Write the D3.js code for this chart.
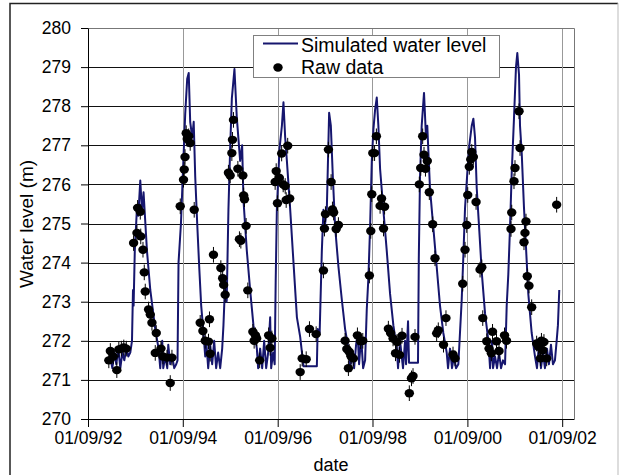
<!DOCTYPE html>
<html>
<head>
<meta charset="utf-8">
<script src="https://cdn.jsdelivr.net/npm/d3@7"></script>
<style>
  body { margin: 0; background: #fff; }
  svg { display: block; font-family: "Liberation Sans", Arial, sans-serif; }
</style>
</head>
<body>
<svg id="chart" width="621" height="475"></svg>
<script>
// dates are decimal years, levels in metres
var simulated = [
  [1993.137, 271.6], [1993.179, 271.3], [1993.221, 271.7], [1993.263, 271.4], [1993.305, 271.8],
  [1993.348, 271.3], [1993.390, 271.7], [1993.432, 271.5], [1993.474, 271.8], [1993.516, 271.6],
  [1993.558, 271.7], [1993.594, 272.0], [1993.615, 273.3], [1993.628, 272.9], [1993.653, 274.3],
  [1993.699, 275.4], [1993.727, 275.2], [1993.769, 276.1], [1993.805, 275.3], [1993.838, 275.8],
  [1993.910, 274.3], [1993.980, 273.3], [1994.085, 272.3], [1994.155, 271.8], [1994.190, 271.3],
  [1994.232, 272.0], [1994.254, 271.3], [1994.296, 271.6], [1994.338, 271.3], [1994.359, 271.9],
  [1994.401, 271.4], [1994.443, 271.6], [1994.485, 271.3], [1994.527, 271.4], [1994.555, 271.5],
  [1994.576, 274.0], [1994.627, 275.0], [1994.675, 276.5], [1994.717, 277.8], [1994.759, 278.7],
  [1994.791, 278.85], [1994.822, 277.6], [1994.865, 277.2], [1994.896, 277.6], [1994.928, 276.2],
  [1994.970, 275.0], [1995.012, 273.9], [1995.054, 272.9], [1995.096, 272.3], [1995.139, 271.6],
  [1995.160, 272.0], [1995.202, 271.3], [1995.244, 271.9], [1995.286, 271.4], [1995.328, 272.0],
  [1995.370, 271.3], [1995.412, 271.7], [1995.455, 271.3], [1995.497, 271.8], [1995.524, 272.4],
  [1995.560, 273.5], [1995.592, 273.0], [1995.629, 275.35], [1995.665, 276.9], [1995.701, 278.2],
  [1995.756, 278.95], [1995.806, 277.7], [1995.876, 276.6], [1995.918, 277.0], [1995.946, 275.6],
  [1996.017, 274.3], [1996.087, 273.3], [1996.156, 272.4], [1996.228, 271.8], [1996.255, 271.3],
  [1996.297, 271.8], [1996.340, 271.3], [1996.382, 272.0], [1996.424, 271.3], [1996.466, 271.7],
  [1996.508, 272.6], [1996.529, 271.3], [1996.571, 271.7], [1996.603, 271.4], [1996.624, 273.5],
  [1996.649, 275.35], [1996.704, 276.9], [1996.755, 277.5], [1996.788, 278.1], [1996.824, 277.2],
  [1996.860, 276.6], [1996.930, 275.35], [1996.999, 274.0], [1997.071, 272.6], [1997.140, 272.1],
  [1997.210, 271.35], [1997.492, 271.35], [1997.509, 272.3], [1997.551, 272.2], [1997.597, 274.3],
  [1997.631, 275.35], [1997.667, 275.0], [1997.703, 275.4], [1997.751, 277.83], [1997.787, 277.5],
  [1997.829, 276.2], [1997.878, 274.9], [1997.947, 273.9], [1998.019, 273.05], [1998.088, 272.3],
  [1998.158, 271.8], [1998.194, 271.3], [1998.236, 271.7], [1998.278, 271.3], [1998.320, 271.9],
  [1998.352, 272.2], [1998.383, 271.4], [1998.426, 272.1], [1998.468, 271.3], [1998.510, 271.5],
  [1998.545, 272.8], [1998.579, 273.6], [1998.615, 274.9], [1998.651, 276.6], [1998.685, 277.4],
  [1998.720, 277.9], [1998.756, 278.22], [1998.790, 277.5], [1998.826, 276.4], [1998.895, 275.35],
  [1998.967, 274.3], [1999.037, 273.2], [1999.106, 272.4], [1999.178, 271.8], [1999.205, 271.3],
  [1999.247, 272.0], [1999.310, 271.3], [1999.353, 272.0], [1999.374, 271.4], [1999.416, 272.5],
  [1999.437, 271.44], [1999.626, 271.44], [1999.643, 274.1], [1999.669, 276.2], [1999.704, 277.5],
  [1999.753, 278.34], [1999.795, 277.2], [1999.822, 277.5], [1999.879, 275.9], [1999.949, 274.9],
  [2000.020, 273.9], [2000.090, 272.9], [2000.160, 272.2], [2000.231, 271.7], [2000.259, 271.3],
  [2000.301, 271.8], [2000.343, 271.3], [2000.385, 271.6], [2000.427, 271.3], [2000.476, 271.4],
  [2000.547, 273.05], [2000.581, 274.15], [2000.617, 275.4], [2000.665, 276.3], [2000.707, 277.0],
  [2000.758, 277.5], [2000.792, 277.68], [2000.827, 277.2], [2000.863, 275.9], [2000.918, 274.8],
  [2000.969, 273.75], [2001.038, 272.7], [2001.108, 272.0], [2001.144, 271.3], [2001.186, 272.0],
  [2001.207, 271.3], [2001.249, 271.6], [2001.291, 271.3], [2001.333, 271.7], [2001.375, 271.3],
  [2001.417, 271.5], [2001.460, 271.4], [2001.495, 272.9], [2001.529, 273.7], [2001.565, 274.9],
  [2001.601, 276.3], [2001.649, 277.7], [2001.691, 279.0], [2001.719, 279.36], [2001.755, 278.8],
  [2001.776, 277.5], [2001.812, 276.8], [2001.860, 275.4], [2001.902, 274.4], [2001.951, 273.2],
  [2002.022, 272.2], [2002.092, 271.6], [2002.134, 271.3], [2002.176, 271.9], [2002.218, 271.3],
  [2002.260, 271.7], [2002.302, 271.3], [2002.345, 271.8], [2002.387, 271.4], [2002.429, 271.9],
  [2002.471, 271.4], [2002.513, 271.5], [2002.549, 272.0], [2002.576, 272.4], [2002.604, 273.3]
];

var rawData = [
  [1993.105, 271.5], [1993.137, 271.74], [1993.200, 271.6], [1993.274, 271.25], [1993.316, 271.78],
  [1993.369, 271.8], [1993.421, 271.83], [1993.474, 271.8],
  [1993.628, 274.5], [1993.699, 274.76], [1993.712, 275.4], [1993.769, 275.3], [1993.779, 274.67],
  [1993.826, 274.33], [1993.853, 273.75], [1993.874, 273.26], [1993.944, 272.8], [1993.980, 272.67],
  [1994.015, 272.46], [1994.106, 272.2], [1994.085, 271.69], [1994.205, 271.8], [1994.247, 271.6],
  [1994.332, 271.57], [1994.437, 271.57], [1994.401, 270.92],
  [1994.612, 275.44], [1994.681, 276.12], [1994.696, 276.38], [1994.713, 276.7], [1994.738, 277.31],
  [1994.759, 277.16], [1994.791, 277.23], [1994.822, 277.06], [1994.907, 275.35],
  [1995.033, 272.46], [1995.090, 272.25], [1995.139, 272.0], [1995.208, 271.98], [1995.229, 272.55],
  [1995.244, 271.67], [1995.313, 274.2], [1995.469, 273.86], [1995.507, 273.6], [1995.528, 273.43],
  [1995.560, 273.18],
  [1995.629, 276.3], [1995.665, 276.23], [1995.701, 276.8], [1995.714, 277.14], [1995.735, 277.65],
  [1995.828, 276.4], [1995.861, 274.6], [1995.891, 274.56], [1995.933, 276.23], [1995.950, 275.72],
  [1995.967, 275.62], [1996.002, 274.94], [1996.038, 273.29],
  [1996.144, 272.23], [1996.171, 272.0], [1996.198, 272.14], [1996.224, 272.06], [1996.287, 271.5],
  [1996.476, 272.14], [1996.508, 271.82], [1996.544, 272.06],
  [1996.613, 276.06], [1996.635, 276.34], [1996.662, 275.52], [1996.698, 276.17], [1996.750, 276.79],
  [1996.782, 276.0], [1996.824, 275.96], [1996.845, 275.6], [1996.877, 276.99], [1996.919, 275.64],
  [1997.140, 271.2], [1997.182, 271.55], [1997.267, 271.53], [1997.336, 272.3], [1997.477, 272.17],
  [1997.631, 273.8], [1997.652, 274.87], [1997.673, 275.24], [1997.736, 276.89], [1997.793, 276.06],
  [1997.821, 275.36], [1997.846, 275.28], [1997.899, 274.86], [1997.947, 274.96],
  [1998.088, 272.0], [1998.124, 271.79], [1998.158, 271.3], [1998.173, 271.72], [1998.215, 271.6],
  [1998.263, 271.55], [1998.348, 272.14], [1998.415, 271.99], [1998.461, 272.0],
  [1998.600, 273.67], [1998.630, 274.81], [1998.651, 275.75], [1998.672, 276.8], [1998.710, 276.8],
  [1998.748, 277.23], [1998.826, 275.45], [1998.857, 275.64], [1998.899, 274.87], [1998.921, 275.43],
  [1999.001, 272.31], [1999.047, 272.2], [1999.100, 272.06], [1999.152, 271.68], [1999.184, 271.97],
  [1999.237, 271.64], [1999.289, 272.13], [1999.443, 270.66], [1999.489, 271.04], [1999.521, 271.1],
  [1999.563, 272.1],
  [1999.654, 276.0], [1999.683, 276.42], [1999.725, 277.23], [1999.753, 276.76], [1999.784, 276.4],
  [1999.822, 276.6], [1999.865, 275.8], [1999.936, 274.98], [1999.985, 274.11],
  [2000.020, 272.19], [2000.054, 272.27], [2000.164, 271.9], [2000.216, 272.58], [2000.364, 271.65],
  [2000.406, 271.55],
  [2000.568, 273.46], [2000.617, 274.33], [2000.653, 274.96], [2000.674, 275.73], [2000.707, 276.45],
  [2000.737, 276.64], [2000.758, 276.83], [2000.792, 276.7], [2000.849, 275.55], [2000.933, 273.82],
  [2000.969, 273.88], [2000.990, 272.58],
  [2001.074, 271.99], [2001.122, 271.8], [2001.171, 271.68], [2001.196, 272.23], [2001.280, 271.99],
  [2001.333, 271.74], [2001.449, 272.14], [2001.491, 272.0],
  [2001.586, 274.86], [2001.601, 275.28], [2001.649, 276.08], [2001.670, 276.42], [2001.755, 277.87],
  [2001.776, 276.93], [2001.860, 274.52], [2001.881, 274.76], [2001.902, 275.05], [2001.929, 273.65],
  [2001.965, 273.41], [2002.022, 272.86],
  [2002.127, 271.93], [2002.165, 271.85], [2002.207, 271.55], [2002.228, 272.0], [2002.254, 271.76],
  [2002.281, 271.97], [2002.339, 271.55],
  [2002.549, 275.48]
];

var tickYears = [1992, 1994, 1996, 1998, 2000, 2002];
var levelTicks = [270, 271, 272, 273, 274, 275, 276, 277, 278, 279, 280];
var errorBar = 0.2;

function toDate(v) {
  var yr = Math.floor(v);
  var a = new Date(yr, 0, 1), b = new Date(yr + 1, 0, 1);
  return new Date(+a + (v - yr) * (b - a));
}

var svg = d3.select('#chart');
var plot = {left: 88, right: 574, top: 28, bottom: 419};
var navy = '#16166e';

var x = d3.scaleTime()
  .domain([new Date(1992, 8, 1), new Date(2002, 11, 1)])
  .range([plot.left, plot.right]);
var y = d3.scaleLinear().domain([270, 280]).range([plot.bottom, plot.top]);
var tickDates = tickYears.map(function (yr) { return new Date(yr, 8, 1); });

// outer frame
svg.append('path').attr('d', 'M10,475V3.5H618').attr('fill', 'none')
  .attr('stroke', '#222').attr('stroke-width', 1.5);
svg.append('line').attr('x1', 618).attr('x2', 618).attr('y1', 3).attr('y2', 475)
  .attr('stroke', '#bbb');

// grid
svg.append('g').selectAll('line').data(levelTicks.slice(1, -1)).enter().append('line')
  .attr('x1', plot.left).attr('x2', plot.right)
  .attr('y1', function (d) { return Math.round(y(d)) + 0.5; })
  .attr('y2', function (d) { return Math.round(y(d)) + 0.5; })
  .attr('stroke', '#111');
svg.append('g').selectAll('line').data(tickDates.slice(1)).enter().append('line')
  .attr('x1', function (d) { return Math.round(x(d)) + 0.5; })
  .attr('x2', function (d) { return Math.round(x(d)) + 0.5; })
  .attr('y1', plot.top).attr('y2', plot.bottom)
  .attr('stroke', '#999');
svg.append('path')
  .attr('d', 'M' + plot.left + ',' + (plot.top + 0.5) + 'H' + (plot.right + 0.5) + 'V' + plot.bottom)
  .attr('fill', 'none').attr('stroke', '#777');

// simulated line
var line = d3.line()
  .x(function (d) { return x(toDate(d[0])); })
  .y(function (d) { return y(d[1]); });
svg.append('path').datum(simulated)
  .attr('d', line)
  .attr('fill', 'none')
  .attr('stroke', navy)
  .attr('stroke-width', 2)
  .attr('stroke-linejoin', 'round');

// raw data with small error bars
var pts = svg.append('g').selectAll('g').data(rawData).enter().append('g');
pts.append('line')
  .attr('x1', function (d) { return x(toDate(d[0])); })
  .attr('x2', function (d) { return x(toDate(d[0])); })
  .attr('y1', function (d) { return y(d[1] + errorBar); })
  .attr('y2', function (d) { return y(d[1] - errorBar); })
  .attr('stroke', '#000').attr('stroke-width', 1);
pts.append('ellipse')
  .attr('cx', function (d) { return x(toDate(d[0])); })
  .attr('cy', function (d) { return y(d[1]); })
  .attr('rx', 4.7).attr('ry', 4.2)
  .attr('fill', '#000');

// axes
var yAxis = svg.append('g').attr('transform', 'translate(' + plot.left + ',0)')
  .call(d3.axisLeft(y).tickValues(levelTicks).tickSize(7).tickSizeOuter(0).tickPadding(10));
var xAxis = svg.append('g').attr('transform', 'translate(0,' + plot.bottom + ')')
  .call(d3.axisBottom(x).tickValues(tickDates).tickFormat(d3.timeFormat('%d/%m/%y'))
    .tickSize(8).tickSizeOuter(0).tickPadding(5));
[yAxis, xAxis].forEach(function (g) {
  g.selectAll('path, line').attr('stroke', '#000');
  g.selectAll('text').attr('font-size', 17.5).attr('fill', '#000')
    .attr('font-family', '"Liberation Sans", Arial, sans-serif');
});

svg.append('text').attr('x', (plot.left + plot.right) / 2).attr('y', 471)
  .attr('text-anchor', 'middle').attr('font-size', 18).text('date');
svg.append('text').attr('transform', 'translate(33,224) rotate(-90)')
  .attr('text-anchor', 'middle').attr('font-size', 19).text('Water level (m)');

// legend
var lg = svg.append('g');
lg.append('rect').attr('x', 253.5).attr('y', 35.5).attr('width', 246).attr('height', 42)
  .attr('fill', '#fff').attr('stroke', '#808080');
lg.append('line').attr('x1', 263).attr('x2', 298).attr('y1', 43.5).attr('y2', 43.5)
  .attr('stroke', navy).attr('stroke-width', 2);
lg.append('ellipse').attr('cx', 278).attr('cy', 67.5).attr('rx', 4.7).attr('ry', 4.2).attr('fill', '#000');
lg.append('text').attr('x', 301).attr('y', 52).attr('font-size', 19.5).text('Simulated water level');
lg.append('text').attr('x', 301).attr('y', 74).attr('font-size', 19.5).text('Raw data');
</script>
</body>
</html>
